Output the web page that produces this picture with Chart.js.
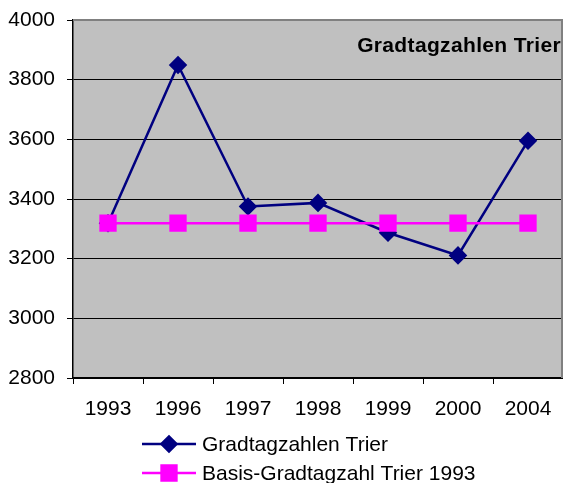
<!DOCTYPE html>
<html>
<head>
<meta charset="utf-8">
<script src="https://cdn.jsdelivr.net/npm/chart.js@4"></script>
<style>
  body { margin: 0; background: #fff; }
  canvas { display: block; }
</style>
</head>
<body>
<canvas id="grafico" width="563" height="483"></canvas>
<script>
const jahre = ['1993', '1996', '1997', '1998', '1999', '2000', '2004'];
const gradtagzahlen = [3319, 3849, 3375, 3387, 3287, 3211, 3595];
const basis1993 = [3319, 3319, 3319, 3319, 3319, 3319, 3319];
const yTicks = [2800, 3000, 3200, 3400, 3600, 3800, 4000];

const titel = 'Gradtagzahlen Trier';
const FONT = 'Arial, "Liberation Sans", sans-serif';

// plot background + gray frame + title inside plot
const plotArea = {
  id: 'plotArea',
  beforeDraw(chart) {
    const { ctx, chartArea: a } = chart;
    ctx.save();
    ctx.fillStyle = '#c0c0c0';
    ctx.fillRect(a.left, a.top, a.right - a.left, a.bottom - a.top);
    ctx.restore();
  },
  afterDatasetsDraw(chart) {
    const { ctx, chartArea: a } = chart;
    ctx.save();
    ctx.strokeStyle = '#808080';
    ctx.lineWidth = 2;
    ctx.beginPath();
    ctx.moveTo(a.left, a.top);
    ctx.lineTo(a.right - 1, a.top);
    ctx.lineTo(a.right - 1, a.bottom);
    ctx.stroke();
    ctx.fillStyle = '#000';
    ctx.font = 'bold 21px ' + FONT;
    ctx.letterSpacing = '0.35px';
    ctx.textAlign = 'right';
    ctx.textBaseline = 'middle';
    ctx.fillText(titel, a.right - 2, a.top + 26);
    ctx.restore();
  }
};

// legend with line + marker, like the spreadsheet one
const legende = {
  id: 'legende',
  afterDraw(chart) {
    const { ctx, chartArea: a } = chart;
    ctx.save();
    ctx.font = '21px ' + FONT;
    ctx.textBaseline = 'middle';
    ctx.textAlign = 'left';
    chart.data.datasets.forEach((ds, i) => {
      const y = a.bottom + 66 + i * 29;
      const x0 = a.left + 69;
      ctx.strokeStyle = ds.borderColor;
      ctx.lineWidth = ds.borderWidth;
      ctx.beginPath();
      ctx.moveTo(x0, y);
      ctx.lineTo(x0 + 54, y);
      ctx.stroke();
      Chart.helpers.drawPoint(ctx, {
        pointStyle: ds.pointStyle,
        radius: ds.pointRadius,
        borderWidth: 1
      }, x0 + 27, y);
      ctx.fillStyle = ds.pointBackgroundColor;
      ctx.strokeStyle = ds.pointBorderColor;
      ctx.fill();
      ctx.fillStyle = '#000';
      ctx.fillText(ds.label, x0 + 60, y + 1);
    });
    ctx.restore();
  }
};

new Chart(document.getElementById('grafico'), {
  type: 'line',
  data: {
    labels: jahre,
    datasets: [
      {
        label: 'Gradtagzahlen Trier',
        data: gradtagzahlen,
        borderColor: '#000080',
        borderWidth: 2.5,
        pointStyle: 'rectRot',
        pointRadius: 7.5,
        pointBackgroundColor: '#000080',
        pointBorderColor: '#000080',
        tension: 0,
        order: 1
      },
      {
        label: 'Basis-Gradtagzahl Trier 1993',
        data: basis1993,
        borderColor: '#ff00ff',
        borderWidth: 2.5,
        pointStyle: 'rect',
        pointRadius: 10.5,
        pointBackgroundColor: '#ff00ff',
        pointBorderColor: '#ff00ff',
        tension: 0,
        order: 0
      }
    ]
  },
  options: {
    responsive: false,
    animation: false,
    devicePixelRatio: 1,
    layout: { autoPadding: false, padding: { top: 20, right: 0, bottom: 0, left: 0 } },
    plugins: {
      legend: { display: false },
      title: { display: false },
      tooltip: { enabled: false }
    },
    scales: {
      x: {
        offset: true,
        afterFit(scale) {
          scale.height = 105;
          scale.paddingLeft = 0;
          scale.paddingRight = 0;
        },
        grid: { display: true, drawOnChartArea: false, offset: true, tickLength: 6, color: '#000' },
        border: { color: '#000', width: 1.5 },
        ticks: { color: '#000', padding: 13, font: { size: 21, family: FONT } }
      },
      y: {
        min: 2800,
        max: 4000,
        afterFit(scale) {
          scale.width = 73;
          scale.paddingTop = 0;
          scale.paddingBottom = 0;
        },
        afterBuildTicks(scale) { scale.ticks = yTicks.map(v => ({ value: v })); },
        grid: { color: '#000', lineWidth: 1, tickLength: 6 },
        border: { color: '#000', width: 1.5 },
        ticks: {
          color: '#000',
          padding: 12,
          font: { size: 21, family: FONT },
          callback: v => String(v)
        }
      }
    }
  },
  plugins: [plotArea, legende]
});
</script>
</body>
</html>
